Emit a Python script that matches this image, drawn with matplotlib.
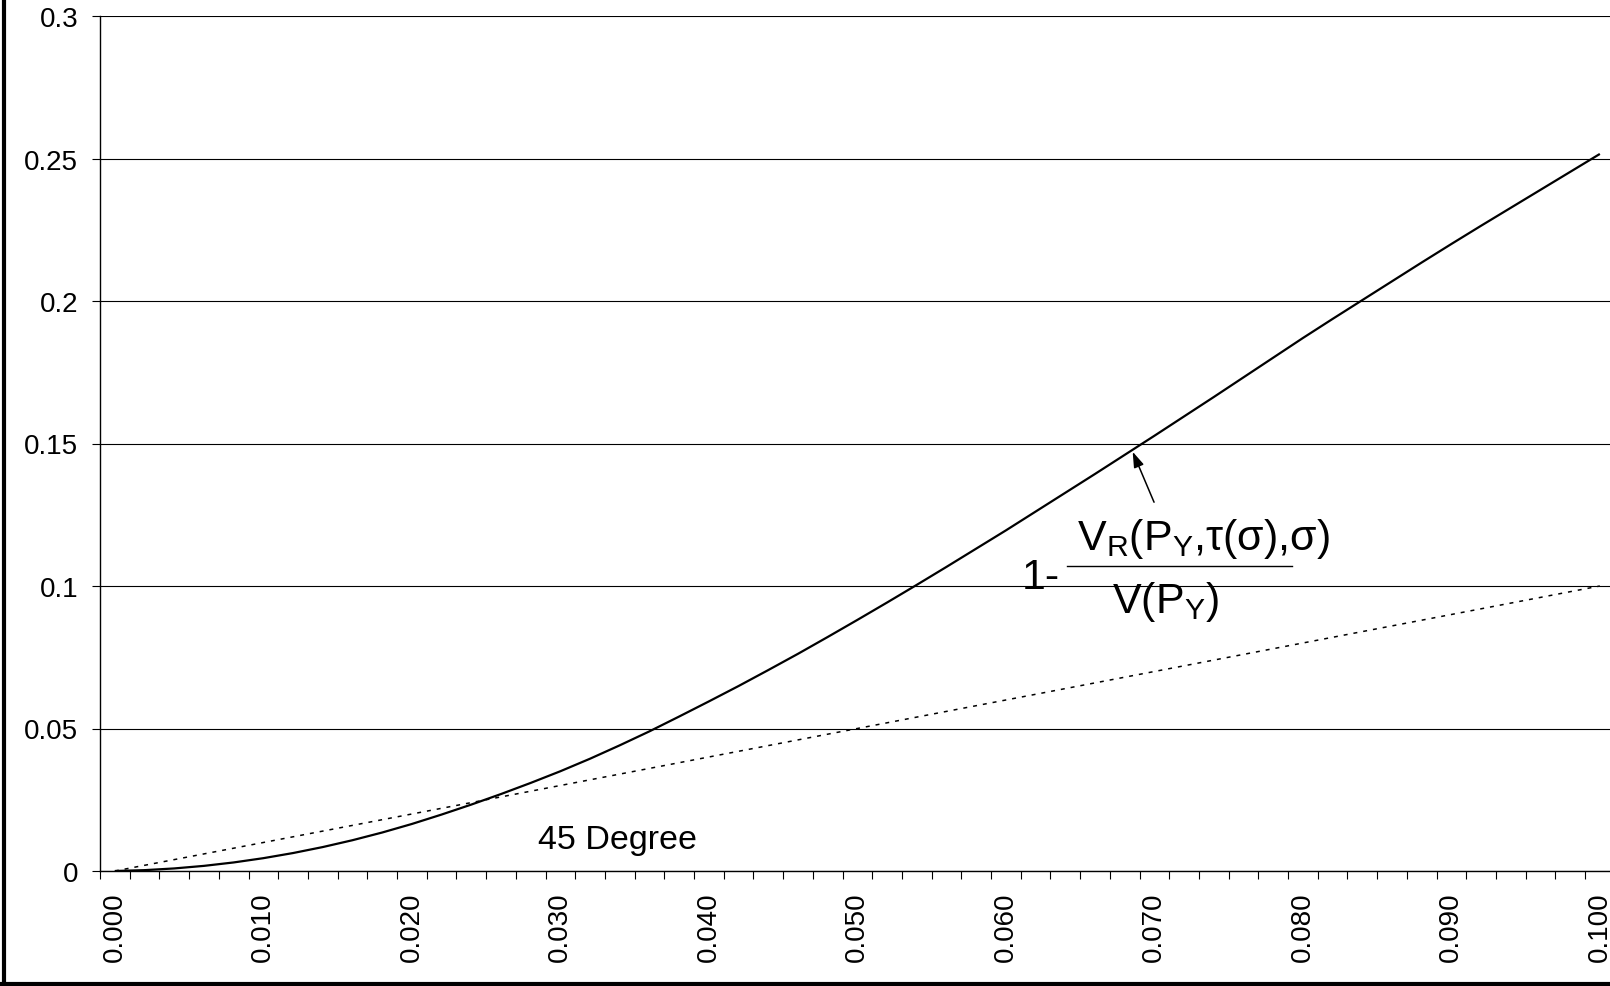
import matplotlib
matplotlib.use("Agg")  # headless: write the png, no window
import matplotlib.pyplot as plt
from matplotlib.lines import Line2D

plt.rcParams["font.family"] = ["Liberation Sans", "DejaVu Sans"]
plt.rcParams["mathtext.fontset"] = "custom"
plt.rcParams["mathtext.rm"] = "Liberation Sans"
plt.rcParams["mathtext.it"] = "Liberation Sans:italic"

# sigma grid (category axis, step 0.002)
sigma = [0.000, 0.002, 0.004, 0.006, 0.008, 0.010, 0.012, 0.014, 0.016, 0.018,
         0.020, 0.022, 0.024, 0.026, 0.028, 0.030, 0.032, 0.034, 0.036, 0.038,
         0.040, 0.042, 0.044, 0.046, 0.048, 0.050, 0.052, 0.054, 0.056, 0.058,
         0.060, 0.062, 0.064, 0.066, 0.068, 0.070, 0.072, 0.074, 0.076, 0.078,
         0.080, 0.082, 0.084, 0.086, 0.088, 0.090, 0.092, 0.094, 0.096, 0.098,
         0.100]

# 1 - V_R(P_Y, tau(sigma), sigma) / V(P_Y)
ratio = [0.0000, 0.0003, 0.0009, 0.0018, 0.0030, 0.0045, 0.0063, 0.0084, 0.0108, 0.0135,
         0.0165, 0.0198, 0.0233, 0.0270, 0.0309, 0.0350, 0.0394, 0.0441, 0.0490, 0.0542,
         0.0595, 0.0649, 0.0705, 0.0762, 0.0821, 0.0881, 0.0942, 0.1004, 0.1067, 0.1131,
         0.1195, 0.1261, 0.1327, 0.1393, 0.1460, 0.1527, 0.1595, 0.1663, 0.1732, 0.1801,
         0.1870, 0.1937, 0.2003, 0.2069, 0.2135, 0.2200, 0.2264, 0.2327, 0.2390, 0.2453,
         0.2516]

# 45 degree reference line
diag = [0.000, 0.002, 0.004, 0.006, 0.008, 0.010, 0.012, 0.014, 0.016, 0.018,
        0.020, 0.022, 0.024, 0.026, 0.028, 0.030, 0.032, 0.034, 0.036, 0.038,
        0.040, 0.042, 0.044, 0.046, 0.048, 0.050, 0.052, 0.054, 0.056, 0.058,
        0.060, 0.062, 0.064, 0.066, 0.068, 0.070, 0.072, 0.074, 0.076, 0.078,
        0.080, 0.082, 0.084, 0.086, 0.088, 0.090, 0.092, 0.094, 0.096, 0.098,
        0.100]

y_ticks = [0, 0.05, 0.1, 0.15, 0.2, 0.25, 0.3]
y_labels = ["0", "0.05", "0.1", "0.15", "0.2", "0.25", "0.3"]
label_step = 5  # label every 5th category

W, H = 1610, 987
fig = plt.figure(figsize=(W / 100, H / 100), dpi=100)
n = len(sigma)
cat_w = 29.7  # px per category
ax = fig.add_axes([100 / W, 1 - 872 / H, n * cat_w / W, 855 / H])

idx = list(range(n))
ax.plot(idx, ratio, color="black", lw=1.6, solid_capstyle="butt",
        solid_joinstyle="round", zorder=3)
ax.plot(idx, diag, color="black", lw=1.1, linestyle=(0, (2.6, 3.9)), zorder=3)

ax.set_xlim(-0.5, n - 0.5)
ax.set_ylim(0, 0.3)

# y axis
ax.set_yticks(y_ticks, y_labels)
ax.yaxis.grid(True, color="black", lw=0.8)
ax.set_axisbelow(True)
ax.tick_params(axis="y", length=5.8, width=0.8, pad=10, labelsize=20)

# x axis: tick marks on category boundaries, labels on category centres
ax.set_xticks([k - 0.5 for k in range(n + 1)])
ax.set_xticklabels([])
lab_pos = idx[::label_step]
ax.set_xticks(lab_pos, minor=True)
ax.set_xticklabels([f"{sigma[k]:.3f}" for k in lab_pos], minor=True)
ax.tick_params(axis="x", which="major", length=5.8, width=0.8, direction="out")
ax.tick_params(axis="x", which="minor", length=0, pad=14.5, labelsize=20,
               labelrotation=90)

for side in ("top", "right"):
    ax.spines[side].set_visible(False)
for side in ("left", "bottom"):
    ax.spines[side].set_linewidth(1.0)
    ax.spines[side].set_color("black")

# labels inside the plot
fig.text(538 / W, 1 - 849 / H, "45 Degree", fontsize=24.5, va="baseline", ha="left")

fig.text(1022 / W, 1 - 589 / H, "1-", fontsize=31, va="baseline", ha="left")
fig.text(1077 / W, 1 - 550 / H, r"$\mathrm{V_R(P_Y{,}τ(σ){,}σ)}$", fontsize=31,
         va="baseline", ha="left")
fig.add_artist(Line2D([1067 / W, 1292 / W], [1 - 567 / H, 1 - 567 / H],
                      transform=fig.transFigure, color="black", lw=1.0))
fig.text(1165 / W, 1 - 613 / H, r"$\mathrm{V(P_Y)}$", fontsize=31,
         va="baseline", ha="center")

ax.annotate("", xy=(34.27, 0.1471), xytext=(34.99, 0.1294),
            arrowprops=dict(arrowstyle="-|>,head_length=0.78,head_width=0.26",
                            mutation_scale=12, color="black", lw=1.1,
                            shrinkA=0, shrinkB=0))

# chart-area frame (left and bottom edges)
fig.add_artist(Line2D([4 / W, 4 / W], [0, 1], transform=fig.transFigure,
                      color="black", lw=3))
fig.add_artist(Line2D([0, 1], [2 / H, 2 / H], transform=fig.transFigure,
                      color="black", lw=3))

fig.savefig("out.png", dpi=100)
